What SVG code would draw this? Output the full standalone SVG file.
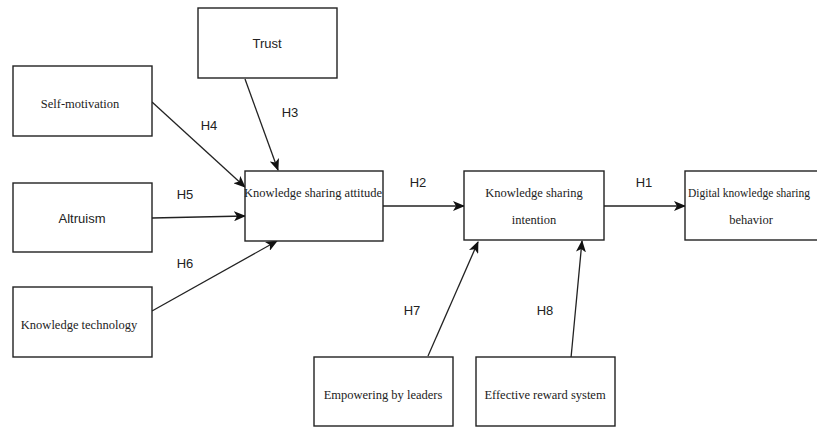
<svg xmlns="http://www.w3.org/2000/svg" width="817" height="428" viewBox="0 0 817 428">
<defs>
<marker id="ah" markerUnits="userSpaceOnUse" markerWidth="12" markerHeight="10" viewBox="0 0 12 10" refX="11" refY="5" orient="auto">
<path d="M0,0 L12,5 L0,10 L3,5 Z" fill="#111"/>
</marker>
<style>
.box{fill:#fff;stroke:#222;stroke-width:1.4}
.s{font-family:"Liberation Serif","Times New Roman",serif;font-size:12.5px;fill:#222;text-anchor:middle}
.a{font-family:"Liberation Sans",Arial,sans-serif;font-size:13px;fill:#222;text-anchor:middle}
.c{stroke:#222;stroke-width:1.3;fill:none;marker-end:url(#ah)}
</style>
</defs>
<rect width="817" height="428" fill="#fff"/>
<g id="connectors">
<line class="c" x1="152" y1="102" x2="245" y2="187"/>
<line class="c" x1="245" y1="79" x2="278" y2="170"/>
<line class="c" x1="152" y1="218" x2="245" y2="216"/>
<line class="c" x1="152" y1="311" x2="277" y2="241"/>
<line class="c" x1="383" y1="206" x2="464" y2="206"/>
<line class="c" x1="604" y1="206" x2="685" y2="206"/>
<line class="c" x1="428" y1="356" x2="478" y2="242"/>
<line class="c" x1="571" y1="358" x2="582" y2="241"/>
<text class="a" x="290" y="117">H3</text>
<text class="a" x="209" y="130">H4</text>
<text class="a" x="185" y="199">H5</text>
<text class="a" x="185" y="268">H6</text>
<text class="a" x="418" y="187">H2</text>
<text class="a" x="644" y="187">H1</text>
<text class="a" x="412" y="315">H7</text>
<text class="a" x="545" y="315">H8</text>
</g>
<g id="trust"><rect class="box" x="198" y="8" width="139" height="70"/><text class="a" x="267" y="48">Trust</text></g>
<g id="self-motivation"><rect class="box" x="13" y="66" width="139" height="70"/><text class="s" x="80" y="108">Self-motivation</text></g>
<g id="altruism"><rect class="box" x="13" y="183" width="139" height="69"/><text class="a" x="82" y="223">Altruism</text></g>
<g id="knowledge-technology"><rect class="box" x="13" y="287" width="139" height="70"/><text class="s" x="79" y="329">Knowledge technology</text></g>
<g id="ksa"><rect class="box" x="245" y="171" width="138" height="70"/><text class="s" x="313" y="197">Knowledge sharing attitude</text></g>
<g id="ksi"><rect class="box" x="464" y="171" width="140" height="69"/><text class="s" x="534" y="197">Knowledge sharing</text><text class="s" x="534" y="224">intention</text></g>
<g id="dksb"><rect class="box" x="685" y="171" width="140" height="69"/><text class="s" x="688" y="197" style="text-anchor:start;font-size:11.5px">Digital knowledge sharing</text><text class="s" x="751" y="224">behavior</text></g>
<g id="empowering"><rect class="box" x="314" y="357" width="139" height="69"/><text class="s" x="383" y="399">Empowering by leaders</text></g>
<g id="reward"><rect class="box" x="476" y="357" width="139" height="69"/><text class="s" x="545" y="399">Effective reward system</text></g>
</svg>
